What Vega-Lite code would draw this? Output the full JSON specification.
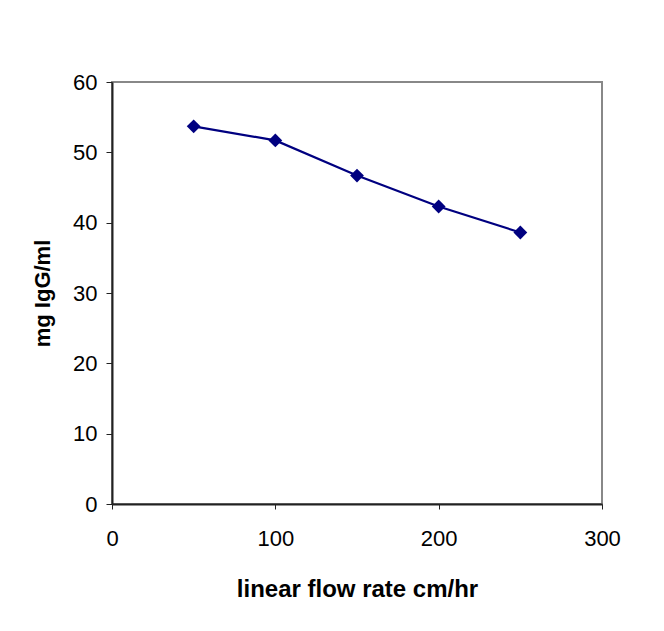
{
  "$schema": "https://vega.github.io/schema/vega-lite/v6.json",
  "width": 490,
  "height": 422,
  "autosize": "none",
  "padding": {"left": 112, "top": 82, "right": 62, "bottom": 127},
  "background": "white",
  "config": {
    "view": {"stroke": "#888888", "strokeWidth": 2},
    "font": "Liberation Sans",
    "axis": {
      "grid": false,
      "labelFont": "Liberation Sans",
      "titleFont": "Liberation Sans",
      "labelColor": "black",
      "titleColor": "black",
      "domainColor": "#222222",
      "domainWidth": 2,
      "tickColor": "#222222",
      "tickWidth": 1,
      "labelFontSize": 22,
      "labelFlush": false,
      "labelOverlap": false,
      "titleFontWeight": "bold"
    }
  },
  "data": {
    "values": [
      {"rate": 50, "igg": 53.7},
      {"rate": 100, "igg": 51.7},
      {"rate": 150, "igg": 46.7},
      {"rate": 200, "igg": 42.3},
      {"rate": 250, "igg": 38.6}
    ]
  },
  "layer": [
    {
      "mark": {"type": "line", "color": "#000080", "strokeWidth": 2.2},
      "encoding": {
        "x": {
          "field": "rate", "type": "quantitative",
          "scale": {"domain": [0, 300], "nice": false},
          "axis": {"values": [0, 100, 200, 300], "title": "linear flow rate cm/hr", "titleFontSize": 24, "tickSize": 5, "labelPadding": 19, "titlePadding": 28}
        },
        "y": {
          "field": "igg", "type": "quantitative",
          "scale": {"domain": [0, 60], "nice": false},
          "axis": {"values": [0, 10, 20, 30, 40, 50, 60], "title": "mg IgG/ml", "titleFontSize": 22, "tickSize": 6, "labelPadding": 9, "titlePadding": 18}
        }
      }
    },
    {
      "mark": {"type": "point", "shape": "diamond", "filled": true, "color": "#000080", "size": 190, "opacity": 1},
      "encoding": {
        "x": {"field": "rate", "type": "quantitative"},
        "y": {"field": "igg", "type": "quantitative"}
      }
    }
  ]
}
